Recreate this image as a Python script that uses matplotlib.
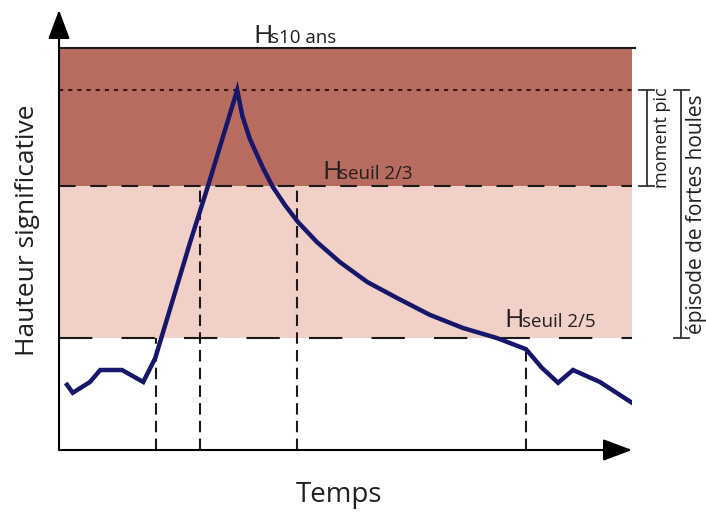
import matplotlib
matplotlib.use("Agg")
from matplotlib import pyplot as plt

plt.rcParams['font.family'] = ['Open Sans', 'DejaVu Sans']

# time (arbitrary units 0..100) and significant wave height (arbitrary units)
temps = [1.4, 2.4, 5.4, 7.2, 11.0, 14.7, 16.8, 22.9, 26.0, 31.1,
         32.0, 33.3, 35.6, 37.3, 39.4, 41.7, 45.0, 49.0, 53.8, 59.0,
         64.7, 70.5, 76.4, 81.5, 84.3, 87.1, 89.7, 94.4, 100.0]
hauteur = [1.63, 1.43, 1.70, 2.00, 2.00, 1.70, 2.30, 5.20, 6.60, 9.00,
           8.35, 7.78, 7.05, 6.58, 6.13, 5.70, 5.20, 4.70, 4.20, 3.80,
           3.38, 3.05, 2.80, 2.52, 2.05, 1.68, 2.00, 1.70, 1.18]

h_10ans = 10.05
h_pic = 9.0
h_seuil_23 = 6.6
h_seuil_25 = 2.8

# vertical markers: (time, top height)
reperes = [(16.9, h_seuil_25), (24.6, h_seuil_23), (41.5, h_seuil_23), (81.5, 2.5)]

dark_band = '#B86C5F'
light_band = '#F1D1C7'
navy = '#16166B'
txt = '#231F20'

fig = plt.figure(figsize=(7.06, 5.14), dpi=100)
ax = fig.add_axes([59 / 706, 64 / 514, 573 / 706, 440 / 514])
ax.set_xlim(0, 100)
ax.set_ylim(0, 11)
ax.axis('off')

# bands
ax.fill_between([0, 100], h_seuil_23, h_10ans, color=dark_band, lw=0, zorder=1)
ax.fill_between([0, 100], h_seuil_25, h_seuil_23, color=light_band, lw=0, zorder=1)

# threshold lines
ax.plot([0, 100.6], [h_10ans, h_10ans], color='#1a1a1a', lw=1.5, zorder=2, clip_on=False)
ax.plot([0, 100], [h_pic, h_pic], color='#3a1410', lw=1.5, dashes=(2.0, 2.4), zorder=2)
ax.plot([0, 100], [h_seuil_23, h_seuil_23], color='#1a1a1a', lw=1.5, dashes=(8, 7), zorder=2)
ax.plot([0, 100], [h_seuil_25, h_seuil_25], color='#1a1a1a', lw=1.5, dashes=(16, 14), zorder=2)

for t, top in reperes:
    ax.plot([t, t], [0, top], color='#1a1a1a', lw=1.5, dashes=(5.5, 3), zorder=2)

# wave height curve
ax.plot(temps, hauteur, color=navy, lw=3.2, solid_joinstyle='miter', zorder=3)

# axes arrows
arrow = dict(arrowstyle='-|>,head_length=1.2,head_width=0.45', mutation_scale=15,
             color='black', lw=1.5, shrinkA=0, shrinkB=0)
ax.annotate('', xy=(0, 1), xytext=(0, 0), xycoords='axes fraction',
            arrowprops=arrow, annotation_clip=False, zorder=4)
ax.annotate('', xy=(1, 0), xytext=(0, 0), xycoords='axes fraction',
            arrowprops=arrow, annotation_clip=False, zorder=4)

# threshold labels
def h_label(t, h, sub, tsub):
    ax.text(t, h, 'H', fontsize=19, color=txt, ha='left', va='baseline', zorder=5)
    ax.text(tsub, h, sub, fontsize=13.5, color=txt, ha='left', va='baseline', zorder=5)

h_label(33.9, 10.18, 's10 ans', 36.9)
h_label(45.9, 6.78, 'seuil 2/3', 48.9)
h_label(77.8, 3.08, 'seuil 2/5', 80.8)

# brackets on the right
for x, top, bottom in [(102.6, h_pic, h_seuil_23), (108.6, h_pic, h_seuil_25)]:
    ax.plot([x, x], [bottom, top], color='#333333', lw=1.3, clip_on=False)
    for y in (top, bottom):
        ax.plot([x - 1.3, x + 1.3], [y, y], color='#333333', lw=1.3, clip_on=False)

ax.text(105.3, (h_pic + h_seuil_23) / 2, 'moment pic', rotation=90, fontsize=13,
        color=txt, ha='center', va='center', clip_on=False)
ax.text(111.3, (h_pic + h_seuil_25) / 2, 'épisode de fortes houles', rotation=90,
        fontsize=15, color=txt, ha='center', va='center', clip_on=False)

# axis titles
fig.text(28 / 706, 1 - 230 / 514, 'Hauteur significative', rotation=90,
         fontsize=19, color=txt, ha='center', va='center')
fig.text(339 / 706, 1 - 495 / 514, 'Temps', fontsize=20, color=txt,
         ha='center', va='center')

fig.savefig('out.png', dpi=100)
